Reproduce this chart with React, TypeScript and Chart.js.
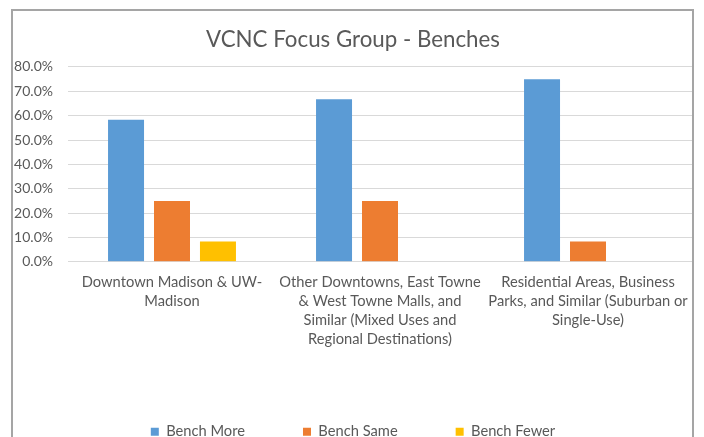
import React, { useEffect, useRef } from "react";
import { Chart, registerables } from "chart.js";

Chart.register(...registerables);

const TITLE = "VCNC Focus Group - Benches";
const CATEGORIES: string[][] = [
  ["Downtown Madison & UW-", "Madison"],
  ["Other Downtowns, East Towne", "& West Towne Malls, and", "Similar (Mixed Uses and", "Regional Destinations)"],
  ["Residential Areas, Business", "Parks, and Similar (Suburban or", "Single-Use)"],
];
const SERIES_NAMES = ["Bench More", "Bench Same", "Bench Fewer"];
const BENCH_MORE = [58.3, 66.7, 75.0];
const BENCH_SAME = [25.0, 25.0, 8.3];
const BENCH_FEWER = [8.3, 0, 0];
const COLORS = ["#5B9BD5", "#ED7D31", "#FFC000"];
const Y_MAX = 80;
const Y_STEP = 10;

const FONT = "Lato, 'Open Sans', sans-serif";
const TEXT = "#595959";

export default function App() {
  const ref = useRef<HTMLCanvasElement | null>(null);

  useEffect(() => {
    if (!ref.current) return;
    const values = [BENCH_MORE, BENCH_SAME, BENCH_FEWER];
    const chart = new Chart(ref.current, {
      type: "bar",
      data: {
        labels: CATEGORIES,
        datasets: SERIES_NAMES.map((name, i) => ({
          label: name,
          data: values[i],
          backgroundColor: COLORS[i],
          borderWidth: 0,
          categoryPercentage: 0.663,
          barPercentage: 0.783,
        })),
      },
      options: {
        responsive: false,
        animation: false,
        layout: { padding: { left: 14, right: 12, top: 0, bottom: 1 } },
        plugins: {
          title: {
            display: true,
            text: TITLE,
            color: TEXT,
            font: { family: FONT, size: 22.3, weight: "normal" },
            padding: { top: 26, bottom: 14.2 },
          },
          legend: {
            position: "bottom",
            labels: {
              color: TEXT,
              font: { family: FONT, size: 14.7 },
              boxWidth: 8,
              boxHeight: 8,
              padding: 58,
            },
          },
          tooltip: { enabled: false },
        },
        scales: {
          x: {
            grid: { display: false, drawTicks: false },
            border: { display: false },
            ticks: {
              color: TEXT,
              font: { family: FONT, size: 14.7, lineHeight: 1.3 },
              padding: 11,
              maxRotation: 0,
              autoSkip: false,
            },
            afterFit: (scale: any) => {
              scale.height = 104.5;
              scale.paddingLeft = 0;
              scale.paddingRight = 0;
            },
          },
          y: {
            min: 0,
            max: Y_MAX,
            grid: { color: "#D9D9D9", drawTicks: false },
            border: { display: false },
            ticks: {
              stepSize: Y_STEP,
              color: TEXT,
              font: { family: FONT, size: 14 },
              padding: 15,
              callback: (v: any) => Number(v).toFixed(1) + "%",
            },
            afterFit: (scale: any) => {
              scale.width = 54;
            },
          },
        },
      },
    });
    return () => chart.destroy();
  }, []);

  return (
    <div style={{ position: "fixed", left: 0, top: 0, width: 704, height: 437, overflow: "hidden", background: "#fff" }}>
      <div
        style={{
          position: "absolute",
          left: 11,
          top: 9,
          width: 683,
          height: 500,
          boxSizing: "border-box",
          border: "2px solid #A5A5A5",
        }}
      />
      <canvas
        ref={ref}
        width={704}
        height={450}
        style={{ position: "absolute", left: 0, top: 0, width: 704, height: 450 }}
      />
    </div>
  );
}
